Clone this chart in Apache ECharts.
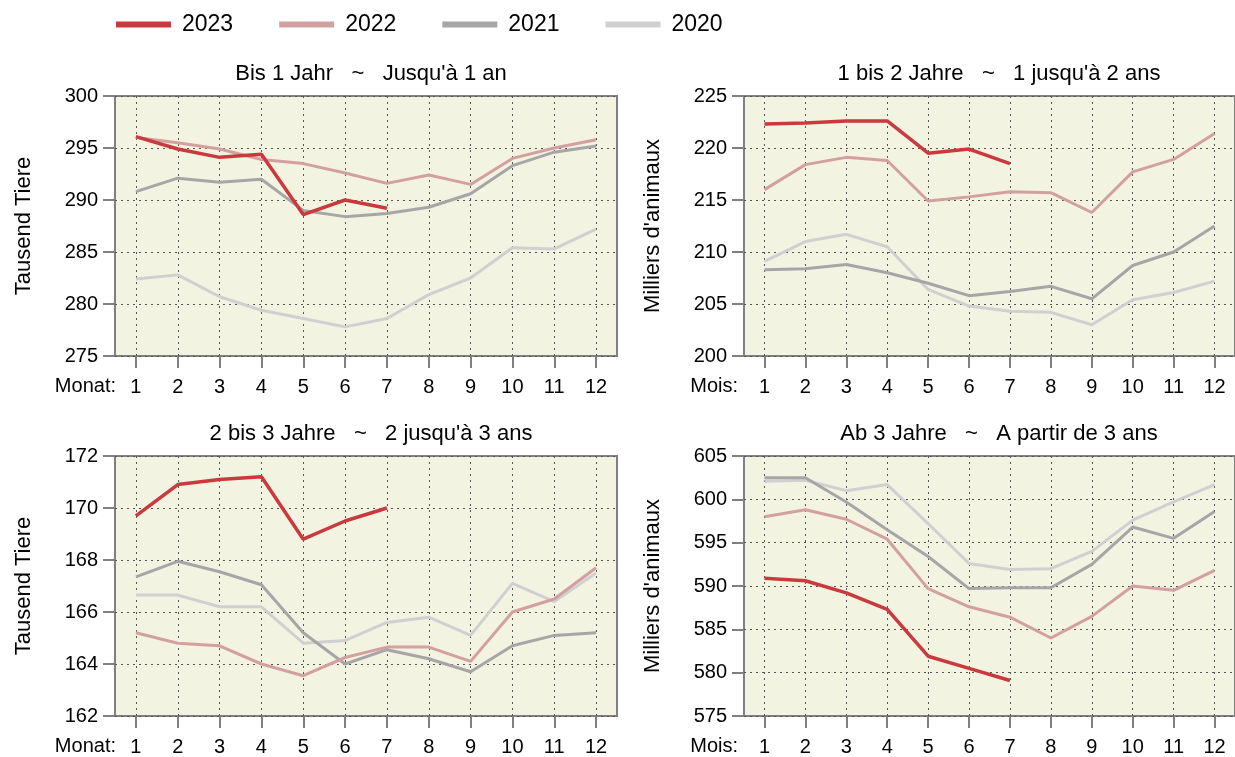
<!DOCTYPE html>
<html>
<head>
<meta charset="utf-8">
<script src="https://cdn.jsdelivr.net/npm/echarts@6/dist/echarts.min.js"></script>
<style>
  html, body { margin: 0; padding: 0; background: #fff; }
  #chart { width: 1235px; height: 757px; }
</style>
</head>
<body>
<div id="chart"></div>
<script>
// Monthly stock, 4 age groups, years 2020-2023 (2023 only up to July)
const months = ['1', '2', '3', '4', '5', '6', '7', '8', '9', '10', '11', '12'];
const years = ['2023', '2022', '2021', '2020'];

// Bis 1 Jahr ~ Jusqu'à 1 an
const bis1_2023 = [296.1, 294.9, 294.1, 294.4, 288.6, 290.0, 289.2];
const bis1_2022 = [296.0, 295.5, 294.9, 293.9, 293.5, 292.6, 291.6, 292.4, 291.5, 294.0, 295.0, 295.8];
const bis1_2021 = [290.8, 292.1, 291.7, 292.0, 289.0, 288.4, 288.7, 289.3, 290.6, 293.3, 294.6, 295.2];
const bis1_2020 = [282.4, 282.8, 280.7, 279.4, 278.6, 277.8, 278.6, 280.9, 282.5, 285.4, 285.3, 287.2];

// 1 bis 2 Jahre ~ 1 jusqu'à 2 ans
const bis2_2023 = [222.3, 222.4, 222.6, 222.6, 219.5, 219.9, 218.5];
const bis2_2022 = [216.0, 218.4, 219.1, 218.8, 214.9, 215.3, 215.8, 215.7, 213.8, 217.7, 218.9, 221.4];
const bis2_2021 = [208.3, 208.4, 208.8, 208.0, 207.0, 205.8, 206.2, 206.7, 205.5, 208.7, 210.0, 212.5];
const bis2_2020 = [209.1, 211.0, 211.7, 210.5, 206.4, 204.8, 204.3, 204.2, 203.0, 205.4, 206.1, 207.2];

// 2 bis 3 Jahre ~ 2 jusqu'à 3 ans
const bis3_2023 = [169.7, 170.9, 171.1, 171.2, 168.8, 169.5, 170.0];
const bis3_2022 = [165.2, 164.8, 164.7, 164.0, 163.55, 164.25, 164.65, 164.65, 164.1, 166.0, 166.5, 167.7];
const bis3_2021 = [167.35, 167.95, 167.55, 167.05, 165.2, 164.0, 164.55, 164.2, 163.7, 164.7, 165.1, 165.2];
const bis3_2020 = [166.65, 166.65, 166.2, 166.2, 164.8, 164.9, 165.6, 165.8, 165.1, 167.1, 166.4, 167.5];

// Ab 3 Jahre ~ A partir de 3 ans
const ab3_2023 = [590.9, 590.6, 589.2, 587.3, 581.9, 580.5, 579.1];
const ab3_2022 = [598.0, 598.8, 597.7, 595.4, 589.7, 587.6, 586.4, 584.0, 586.5, 590.0, 589.5, 591.8];
const ab3_2021 = [602.5, 602.5, 599.7, 596.5, 593.4, 589.7, 589.8, 589.8, 592.5, 596.8, 595.5, 598.6];
const ab3_2020 = [602.1, 602.2, 601.0, 601.7, 597.2, 592.6, 591.9, 592.0, 594.0, 597.6, 599.7, 601.7];

const yMin = [275, 200, 162, 575];
const yMax = [300, 225, 172, 605];
const yStep = [5, 5, 2, 5];

const panelTitles = [
  'Bis 1 Jahr   ~   Jusqu\'à 1 an',
  '1 bis 2 Jahre   ~   1 jusqu\'à 2 ans',
  '2 bis 3 Jahre   ~   2 jusqu\'à 3 ans',
  'Ab 3 Jahre   ~   A partir de 3 ans'
];
const yNames = ['Tausend Tiere', 'Milliers d\'animaux', 'Tausend Tiere', 'Milliers d\'animaux'];
const xNames = ['Monat:', 'Mois:', 'Monat:', 'Mois:'];

const panelData = [
  [bis1_2023, bis1_2022, bis1_2021, bis1_2020],
  [bis2_2023, bis2_2022, bis2_2021, bis2_2020],
  [bis3_2023, bis3_2022, bis3_2021, bis3_2020],
  [ab3_2023, ab3_2022, ab3_2021, ab3_2020]
];

const colors = { '2023': '#c9393d', '2022': '#d3a0a1', '2021': '#a6a6a6', '2020': '#d0d0d0' };
const widths = { '2023': 3.5, '2022': 3, '2021': 3, '2020': 3 };

const FONT = "'Liberation Sans', Arial, sans-serif";
const axisGray = '#808080';
const dotted = { color: '#555', width: 1, type: [2, 4] };

// grid geometry
const grids = [
  { left: 115, top: 96, width: 502, height: 260 },
  { left: 744, top: 96, width: 500, height: 260 },
  { left: 115, top: 456, width: 502, height: 260 },
  { left: 744, top: 456, width: 500, height: 260 }
];

const chart = echarts.init(document.getElementById('chart'));

const series = [];
panelData.forEach((rows, p) => {
  // draw 2020 first so 2023 ends up on top
  for (let k = years.length - 1; k >= 0; k--) {
    const y = years[k];
    series.push({
      name: y,
      type: 'line',
      xAxisIndex: p,
      yAxisIndex: p,
      data: rows[k],
      showSymbol: false,
      symbol: 'none',
      color: colors[y],
      lineStyle: { color: colors[y], width: widths[y] },
      emphasis: { disabled: true },
      animation: false
    });
  }
});

const option = {
  animation: false,
  textStyle: { fontFamily: FONT },
  legend: {
    data: years,
    left: 111,
    top: 8,
    icon: 'rect',
    itemWidth: 55,
    itemHeight: 6,
    itemGap: 46,
    textStyle: { fontSize: 23, color: '#000', fontFamily: FONT, padding: [0, 0, 0, 6] }
  },
  title: grids.map((g, i) => ({
    text: panelTitles[i],
    left: g.left + g.width / 2,
    top: g.top - 38,
    textAlign: 'center',
    textStyle: { fontSize: 22, fontWeight: 'normal', color: '#000', fontFamily: FONT }
  })),
  grid: grids.map(g => Object.assign({
    show: true,
    backgroundColor: '#f3f3e2',
    borderColor: axisGray,
    borderWidth: 2
  }, g)),
  xAxis: grids.map((g, i) => ({
    type: 'category',
    gridIndex: i,
    data: months,
    boundaryGap: true,
    axisLine: { show: false },
    axisTick: { show: true, alignWithLabel: true, length: 12, interval: 0, lineStyle: { color: axisGray, width: 2 } },
    axisLabel: { interval: 0, margin: 21, fontSize: 20, color: '#000', fontFamily: FONT },
    splitLine: { show: true, alignWithLabel: true, interval: 0, lineStyle: dotted }
  })),
  yAxis: grids.map((g, i) => ({
    type: 'value',
    gridIndex: i,
    min: yMin[i],
    max: yMax[i],
    interval: yStep[i],
    name: yNames[i],
    nameLocation: 'middle',
    nameGap: 80,
    nameTextStyle: { fontSize: 22, color: '#000', fontFamily: FONT },
    axisLine: { show: false },
    axisTick: { show: true, length: 12, lineStyle: { color: axisGray, width: 2 } },
    axisLabel: { margin: 17, fontSize: 20, color: '#000', fontFamily: FONT },
    splitLine: { show: true, lineStyle: dotted }
  })),
  graphic: grids.map((g, i) => ({
    type: 'text',
    right: 1235 - g.left + (i % 2 ? 6 : -1),
    top: g.top + g.height + 20,
    style: { text: xNames[i], fontSize: 20, fill: '#000', fontFamily: FONT }
  })),
  series: series
};

chart.setOption(option);
</script>
</body>
</html>
